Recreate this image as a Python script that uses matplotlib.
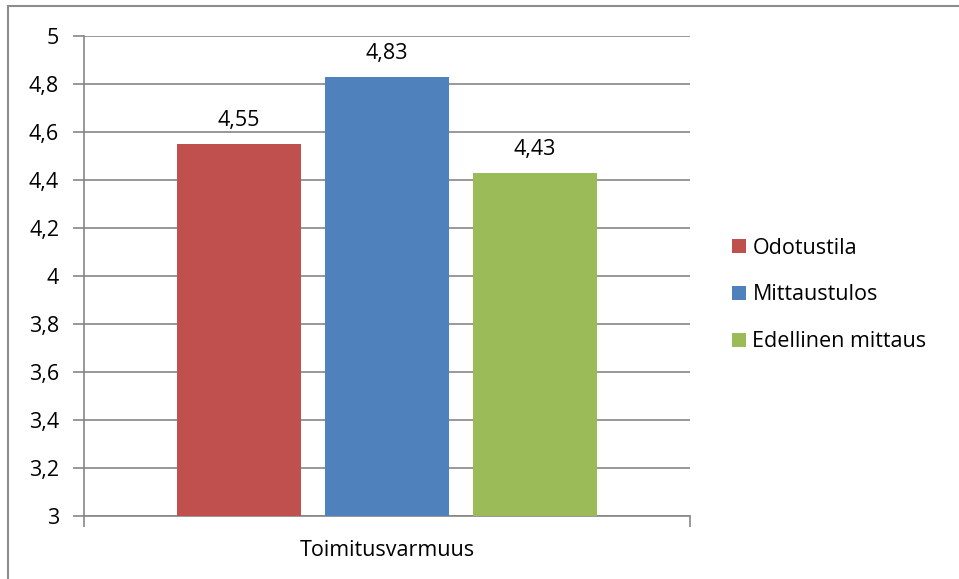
import numpy as np
import matplotlib.pyplot as plt
from matplotlib.patches import Rectangle
from matplotlib.ticker import FuncFormatter

# data
category = 'Toimitusvarmuus'
series = ['Odotustila', 'Mittaustulos', 'Edellinen mittaus']
values = [4.55, 4.83, 4.43]
colors = ['#C0504D', '#4F81BD', '#9BBB59']
yticks = [3, 3.2, 3.4, 3.6, 3.8, 4, 4.2, 4.4, 4.6, 4.8, 5]

plt.rcParams['font.family'] = ['Open Sans', 'DejaVu Sans']
fs = 15.5

W, H = 959, 579
fig = plt.figure(figsize=(W / 100, H / 100), dpi=100)

# outer chart border (Excel style)
fig.patches.append(Rectangle((8 / W, -0.01), 1.02, 1 - 6 / H + 0.01, transform=fig.transFigure,
                             fill=False, edgecolor='#8C8C8C', linewidth=1.5))

ax = fig.add_axes([84 / W, 1 - 516 / H, (690 - 84) / W, (516 - 36) / H])

width = 0.205
step = 0.244
offsets = (np.arange(len(series)) - 1) * step
for off, v, c, name in zip(offsets, values, colors, series):
    ax.bar(off, v - 3, bottom=3, width=width, color=c, label=name, zorder=3)
    ax.text(off, v + 0.055, ('%.2f' % v).replace('.', ','), ha='center', va='bottom', fontsize=fs)

ax.set_xlim(-0.5, 0.5)
ax.set_ylim(3, 5)
ax.set_yticks(yticks)
ax.yaxis.set_major_formatter(FuncFormatter(lambda y, p: ('%g' % y).replace('.', ',')))
ax.set_xticks([-0.5, 0.5])
ax.set_xticklabels(['', ''])
ax.text(0, -0.05, category, transform=ax.get_xaxis_transform(), ha='center', va='top', fontsize=fs)

ax.grid(axis='y', color='#868686', linewidth=1.2, zorder=0)
for s in ['top', 'right']:
    ax.spines[s].set_visible(False)
for s in ['left', 'bottom']:
    ax.spines[s].set_color('#868686')
    ax.spines[s].set_linewidth(1.2)
ax.tick_params(axis='y', length=8, width=1.2, color='#868686', labelsize=fs, pad=10)
ax.tick_params(axis='x', length=8, width=1.2, color='#868686')

ax.legend(loc='center left', bbox_to_anchor=(732 / W, 1 - 295 / H), bbox_transform=fig.transFigure,
          frameon=False, fontsize=fs, handlelength=0.65, handleheight=0.65, handletextpad=0.3,
          labelspacing=1.2, borderpad=0, borderaxespad=0)

fig.savefig('out.png', dpi=100)
